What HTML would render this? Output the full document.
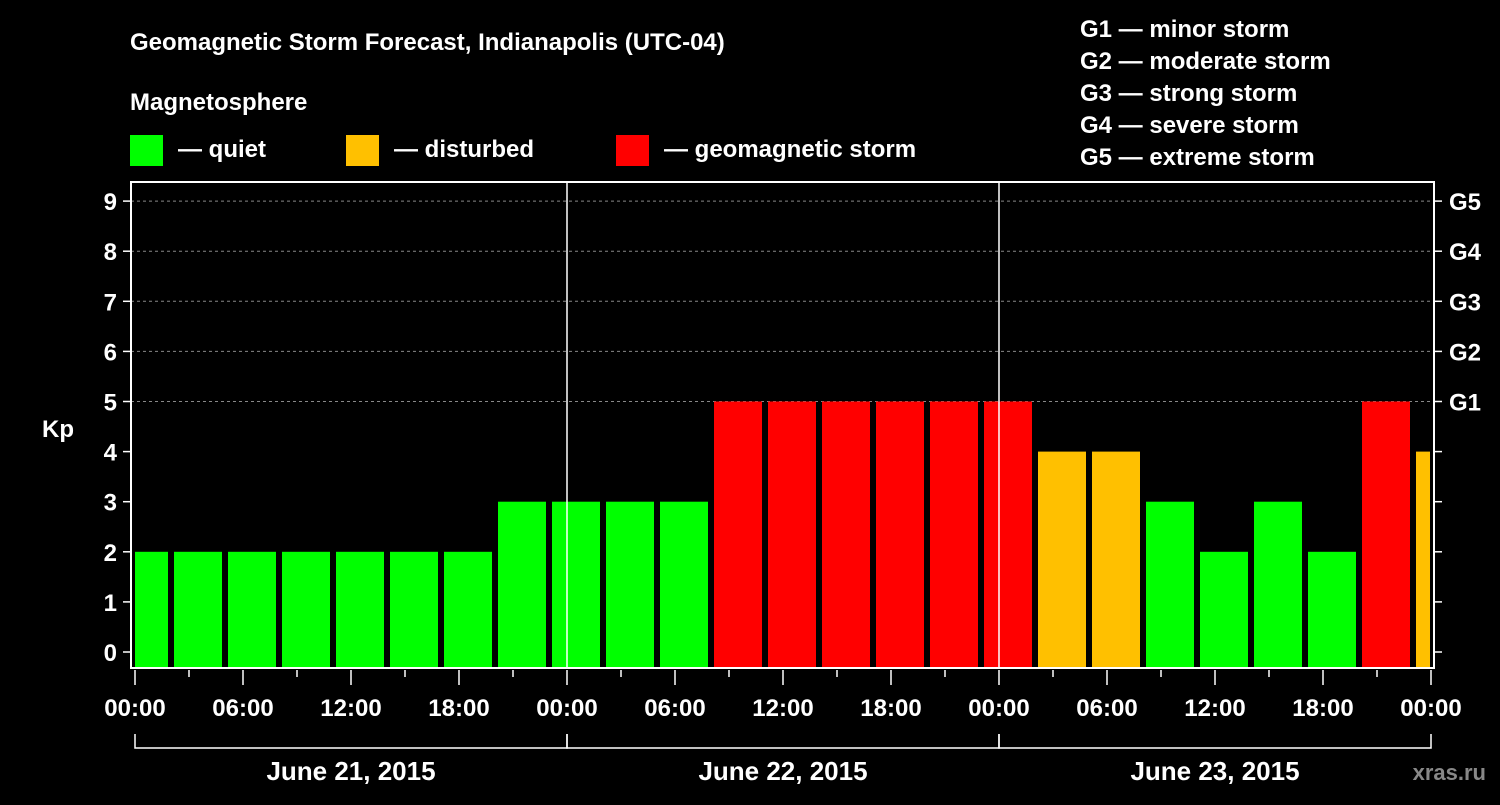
<!DOCTYPE html>
<html><head><meta charset="utf-8"><style>
body{margin:0;background:#000;width:1500px;height:800px;overflow:hidden}
svg text{font-family:"Liberation Sans",Arial,sans-serif;font-weight:bold;fill:#fff}
</style></head><body>
<svg id="c" width="1500" height="800">
<text x="130" y="50" font-size="24">Geomagnetic Storm Forecast, Indianapolis (UTC-04)</text>
<text x="130" y="110" font-size="24">Magnetosphere</text>
<rect x="130" y="135" width="33" height="31" fill="#00ff00"/>
<text x="178" y="157" font-size="24">— quiet</text>
<rect x="346" y="135" width="33" height="31" fill="#ffc000"/>
<text x="394" y="157" font-size="24">— disturbed</text>
<rect x="616" y="135" width="33" height="31" fill="#ff0000"/>
<text x="664" y="157" font-size="24">— geomagnetic storm</text>
<g font-size="24">
<text x="1080" y="37">G1 — minor storm</text>
<text x="1080" y="69">G2 — moderate storm</text>
<text x="1080" y="101">G3 — strong storm</text>
<text x="1080" y="133">G4 — severe storm</text>
<text x="1080" y="165">G5 — extreme storm</text>
</g>
<text x="42" y="437" font-size="24">Kp</text>
<text x="1486" y="780" font-size="22" text-anchor="end" style="fill:#888">xras.ru</text>
<g id="plot"></g>
</svg>
<script>
const kpValues=[2,2,2,2,2,2,2,3,3,3,3,5,5,5,5,5,5,4,4,3,2,3,2,5,4];
const yTicks=[0,1,2,3,4,5,6,7,8,9];
const gLabels=["G1","G2","G3","G4","G5"];
const gLevels=[5,6,7,8,9];
const dayLabels=["June 21, 2015","June 22, 2015","June 23, 2015"];
const hourLabels=["00:00","06:00","12:00","18:00"];

const NS="http://www.w3.org/2000/svg";
const g=document.getElementById('plot');
const X0=135,PXH=18,Y0=652,PXK=50.1,FL=131,FR=1434,FT=182,FB=668;
const x=h=>X0+h*PXH, y=v=>Y0-v*PXK;
function mk(t,a,p){const e=document.createElementNS(NS,t);for(const k in a)e.setAttribute(k,a[k]);(p||g).appendChild(e);return e;}
// grid
yTicks.forEach(v=>{if(v>=5){
const l=mk('line',{x1:FL,x2:FR,y1:y(v),y2:y(v),stroke:'#888','stroke-dasharray':'3,3','stroke-width':1});

}});
// bars
kpValues.forEach((v,i)=>{
 const c=0.5+3*i;let l=Math.max(x(c)-24,X0),r=Math.min(x(c)+24,1430);
 const col=v>=5?'#ff0000':(v>=4?'#ffc000':'#00ff00');
 const b=mk('rect',{x:l,y:y(v),width:r-l,height:FB-y(v),fill:col});
 
 
});
// day separators
for(let d=1;d<3;d++){const l=mk('line',{x1:x(24*d),x2:x(24*d),y1:FT,y2:FB,stroke:'#fff','stroke-width':1.5});

}
// frame
const f=mk('rect',{x:FL,y:FT,width:FR-FL,height:FB-FT,fill:'none',stroke:'#fff','stroke-width':2});


// y ticks
yTicks.forEach(v=>{
 mk('line',{x1:123,x2:FL,y1:y(v),y2:y(v),stroke:'#fff','stroke-width':1.5});
 mk('line',{x1:FR,x2:1442,y1:y(v),y2:y(v),stroke:'#fff','stroke-width':1.5});
 const t=mk('text',{x:117,y:y(v)+9,'font-size':24,'text-anchor':'end'});t.textContent=v;
 
 
});
gLevels.forEach((v,i)=>{const t=mk('text',{x:1449,y:y(v)+9,'font-size':24});t.textContent=gLabels[i];
 
 });
// x ticks
for(let h=0;h<=72;h+=3){const maj=h%6===0;mk('line',{x1:x(h),x2:x(h),y1:FB+2,y2:maj?685:677,stroke:'#fff','stroke-width':1.5});
 if(maj){const t=mk('text',{x:x(h),y:716,'font-size':24,'text-anchor':'middle'});t.textContent=hourLabels[(h/6)%4];
 
 }}
// day brackets
dayLabels.forEach((s,d)=>{
 mk('path',{d:`M${x(24*d)} 734V748H${x(24*d+24)}V734`,stroke:'#fff',fill:'none','stroke-width':1.5});
 const t=mk('text',{x:x(24*d+12),y:780,'font-size':26,'text-anchor':'middle'});t.textContent=s;
 
 
});
</script>
</body></html>
